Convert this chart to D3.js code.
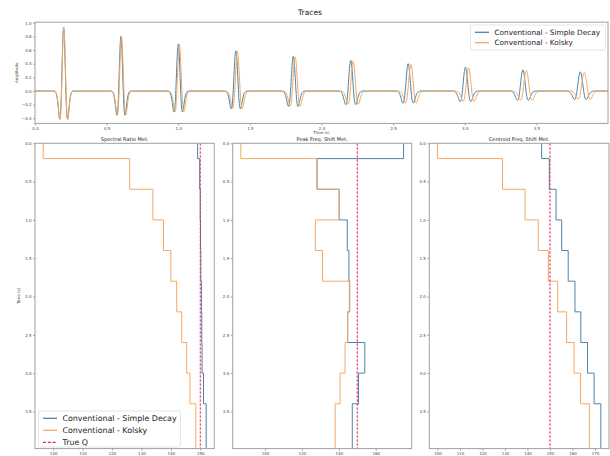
<!DOCTYPE html>
<html>
<head>
<meta charset="utf-8">
<script src="https://cdn.jsdelivr.net/npm/d3@7"></script>
<style>
  body { margin: 0; background: #fff; }
  svg { display: block; font-family: "DejaVu Sans", sans-serif; }
</style>
</head>
<body>
<div id="chart"></div>
<script>
// ---- trace data (one wavelet every 0.4 s) ----
const pulseTimes = [0.2, 0.6, 1.0, 1.4, 1.8, 2.2, 2.6, 3.0, 3.4, 3.8];
const decayAmp   = [0.93, 0.80, 0.69, 0.59, 0.51, 0.45, 0.40, 0.35, 0.31, 0.28];
const kolskyAmp  = [0.93, 0.79, 0.68, 0.58, 0.50, 0.44, 0.39, 0.34, 0.30, 0.27];
const decayShift = [0, 0, 0, 0.002, 0.003, 0.004, 0.005, 0.005, 0.006, 0.007];
const kolskyShift = [0.001, 0.004, 0.008, 0.013, 0.016, 0.021, 0.024, 0.027, 0.030, 0.034];
const decayWidth  = [0.022, 0.023, 0.024, 0.026, 0.027, 0.028, 0.029, 0.030, 0.031, 0.033];
const kolskyWidth = [0.022, 0.024, 0.025, 0.027, 0.028, 0.029, 0.030, 0.031, 0.033, 0.034];
// normalised wavelet (offset in wavelet widths)
const waveOffsets = [-3, -2.75, -2.5, -2.25, -2, -1.75, -1.5, -1.25, -1, -0.75, -0.5, -0.25, 0,
                     0.25, 0.5, 0.75, 1, 1.25, 1.5, 1.75, 2, 2.25, 2.5, 2.75, 3];
const waveShape   = [-0.002, -0.007, -0.022, -0.058, -0.128, -0.240, -0.369, -0.445, -0.368, -0.071, 0.389, 0.822, 1,
                     0.822, 0.389, -0.071, -0.368, -0.445, -0.369, -0.240, -0.128, -0.058, -0.022, -0.007, -0.002];

// ---- Q estimates per layer ----
const layerTops = [0, 0.2, 0.6, 1.0, 1.4, 1.8, 2.2, 2.6, 3.0, 3.4];
const layerEnd = 3.985;
const srDecay  = [149.1, 149.8, 150.0, 150.1, 150.2, 150.4, 150.5, 150.6, 151.1, 152.0];
const srKolsky = [96.6, 126.0, 133.9, 137.5, 140.0, 142.0, 143.7, 145.4, 146.5, 148.5];
const pfDecay  = [175.1, 128.2, 140.2, 144.6, 145.5, 145.9, 144.8, 154.1, 150.7, 147.3];
const pfKolsky = [86.9, 128.2, 140.2, 127.3, 131.2, 145.7, 144.8, 143.4, 140.7, 138.0];
const cfDecay  = [146.3, 149.7, 152.7, 155.2, 158.1, 161.1, 163.7, 166.7, 169.6, 172.6];
const cfKolsky = [100.0, 128.9, 138.9, 144.8, 149.3, 153.4, 157.4, 160.7, 163.6, 167.5];
const trueQ = 150;

// ---- ticks ----
const timeTicks = [0, 0.5, 1.0, 1.5, 2.0, 2.5, 3.0, 3.5];
const ampTicks = [-0.4, -0.2, 0, 0.2, 0.4, 0.6, 0.8, 1.0];
const depthTicks = [0, 0.5, 1.0, 1.5, 2.0, 2.5, 3.0, 3.5];
const srTicks = [100, 110, 120, 130, 140, 150];
const pfTicks = [100, 120, 140, 160];
const cfTicks = [100, 110, 120, 130, 140, 150, 160, 170];

const blue = '#4a84aa';
const orange = '#f5a860';
const red = '#dc2a55';
const frameColor = '#a0a0a0';
const tickFont = 4;

const width = 610, height = 456;

let $svg = d3.select('#chart').append('svg')
  .attr('width', width)
  .attr('height', height);

const fmt1 = d => d3.format('.1f')(d).replace('-', '\u2212');

function styleAxis($a) {
  $a.select('.domain').remove();
  $a.selectAll('line').attr('stroke', '#666').attr('stroke-width', 0.6);
  $a.selectAll('text').attr('font-size', tickFont).attr('fill', '#444')
    .attr('font-family', '"DejaVu Sans", sans-serif');
}

function frame(x0, x1, y0, y1) {
  $svg.append('rect')
    .attr('x', x0).attr('y', y0)
    .attr('width', x1 - x0).attr('height', y1 - y0)
    .attr('fill', 'none')
    .attr('stroke', frameColor)
    .attr('stroke-width', 1);
}

function tracePoints(amps, shifts, widths) {
  let pts = [[0, 0]];
  pulseTimes.forEach((t0, i) => {
    let c = t0 + shifts[i];
    waveOffsets.forEach((u, k) => pts.push([c + u * widths[i], amps[i] * waveShape[k]]));
  });
  pts.push([4, 0]);
  return pts;
}

// ---------------- top: traces ----------------
function drawTraces() {
  let box = { left: 35, right: 608, top: 22.2, bottom: 123.4 };
  let x = d3.scaleLinear().domain([0, 4]).range([box.left, box.right]);
  let y = d3.scaleLinear().domain([-0.475, 1.008]).range([box.bottom, box.top]);

  let line = d3.line()
    .x(d => x(d[0]))
    .y(d => y(d[1]))
    .curve(d3.curveMonotoneX);

  let $g = $svg.append('g');
  $g.append('path')
    .attr('d', line(tracePoints(decayAmp, decayShift, decayWidth)))
    .attr('fill', 'none').attr('stroke', blue).attr('stroke-width', 1);
  $g.append('path')
    .attr('d', line(tracePoints(kolskyAmp, kolskyShift, kolskyWidth)))
    .attr('fill', 'none').attr('stroke', orange).attr('stroke-width', 1);

  let $xa = $svg.append('g')
    .attr('transform', `translate(0,${box.bottom})`)
    .call(d3.axisBottom(x).tickValues(timeTicks).tickFormat(fmt1).tickSize(2).tickPadding(1.5));
  styleAxis($xa);
  let $ya = $svg.append('g')
    .attr('transform', `translate(${box.left},0)`)
    .call(d3.axisLeft(y).tickValues(ampTicks).tickFormat(fmt1).tickSize(2).tickPadding(1.5));
  styleAxis($ya);

  frame(box.left, box.right, box.top, box.bottom);

  $svg.append('text')
    .attr('x', (box.left + box.right) / 2).attr('y', 134)
    .attr('text-anchor', 'middle').attr('font-size', tickFont).attr('fill', '#444')
    .text('Time (s)');
  $svg.append('text')
    .attr('transform', `translate(18,${(box.top + box.bottom) / 2}) rotate(-90)`)
    .attr('text-anchor', 'middle').attr('font-size', tickFont).attr('fill', '#444')
    .text('Amplitude');

  legend(470.5, 25, 135, 25, 7.3, 10.4, [
    { label: 'Conventional - Simple Decay', color: blue },
    { label: 'Conventional - Kolsky', color: orange }
  ]);
}

function legend(lx, ly, lw, lh, fs, rowH, items) {
  let $l = $svg.append('g');
  $l.append('rect')
    .attr('x', lx).attr('y', ly).attr('width', lw).attr('height', lh)
    .attr('rx', 2)
    .attr('fill', '#fff').attr('fill-opacity', 0.85)
    .attr('stroke', '#e0e0e0').attr('stroke-width', 0.8);
  items.forEach((it, i) => {
    let cy = ly + 7.3 + i * rowH;
    $l.append('line')
      .attr('x1', lx + 4.5).attr('x2', lx + 18.5)
      .attr('y1', cy).attr('y2', cy)
      .attr('stroke', it.color).attr('stroke-width', 1.3)
      .attr('stroke-dasharray', it.dash || null);
    $l.append('text')
      .attr('x', lx + 24).attr('y', cy)
      .attr('dy', '0.35em')
      .attr('font-size', fs).attr('fill', '#222')
      .text(it.label);
  });
}

// ---------------- bottom: Q panels ----------------
const panelTop = 143.3, panelBottom = 448.6;

function stepPoints(vals) {
  let pts = vals.map((v, i) => [v, layerTops[i]]);
  pts.push([vals[vals.length - 1], layerEnd]);
  return pts;
}

function drawPanel(x0, x1, title, decay, kolsky, ticks, withLegend) {
  let all = decay.concat(kolsky, [trueQ]);
  let ext = d3.extent(all);
  let pad = (ext[1] - ext[0]) * 0.05;
  let x = d3.scaleLinear().domain([ext[0] - pad, ext[1] + pad]).range([x0, x1]);
  let y = d3.scaleLinear().domain([0, layerEnd]).range([panelTop, panelBottom]);

  let line = d3.line()
    .x(d => x(d[0]))
    .y(d => y(d[1]))
    .curve(d3.curveStepBefore);

  let $g = $svg.append('g');
  $g.append('path')
    .attr('d', line(stepPoints(decay)))
    .attr('fill', 'none').attr('stroke', blue).attr('stroke-width', 1);
  $g.append('path')
    .attr('d', line(stepPoints(kolsky)))
    .attr('fill', 'none').attr('stroke', orange).attr('stroke-width', 1);
  $g.append('line')
    .attr('x1', x(trueQ)).attr('x2', x(trueQ))
    .attr('y1', panelTop).attr('y2', panelBottom)
    .attr('stroke', red).attr('stroke-width', 1)
    .attr('stroke-dasharray', '2.5,1.5');

  let $xa = $svg.append('g')
    .attr('transform', `translate(0,${panelBottom})`)
    .call(d3.axisBottom(x).tickValues(ticks).tickFormat(d3.format('d')).tickSize(2).tickPadding(1.5));
  styleAxis($xa);
  let $ya = $svg.append('g')
    .attr('transform', `translate(${x0},0)`)
    .call(d3.axisLeft(y).tickValues(depthTicks).tickFormat(fmt1).tickSize(2).tickPadding(1.5));
  styleAxis($ya);

  frame(x0, x1, panelTop, panelBottom);

  $svg.append('text')
    .attr('x', (x0 + x1) / 2).attr('y', panelTop - 2)
    .attr('text-anchor', 'middle').attr('font-size', 5).attr('fill', '#222')
    .text(title);

  if (withLegend) {
    legend(x0 + 3.5, 411, 142, 36, 7.9, 12, [
      { label: 'Conventional - Simple Decay', color: blue },
      { label: 'Conventional - Kolsky', color: orange },
      { label: 'True Q', color: red, dash: '3,1.8' }
    ]);
  }
}

drawTraces();
drawPanel(35, 214.3, 'Spectral Ratio Met.', srDecay, srKolsky, srTicks, true);
drawPanel(232.7, 411.7, 'Peak Freq. Shift Met.', pfDecay, pfKolsky, pfTicks, false);
drawPanel(429.3, 609, 'Centroid Freq. Shift Met.', cfDecay, cfKolsky, cfTicks, false);

$svg.append('text')
  .attr('transform', `translate(20,${(panelTop + panelBottom) / 2}) rotate(-90)`)
  .attr('text-anchor', 'middle').attr('font-size', tickFont).attr('fill', '#444')
  .text('Time (s)');

$svg.append('text')
  .attr('x', 310).attr('y', 15)
  .attr('text-anchor', 'middle').attr('font-size', 7.5).attr('fill', '#222')
  .text('Traces');
</script>
</body>
</html>
